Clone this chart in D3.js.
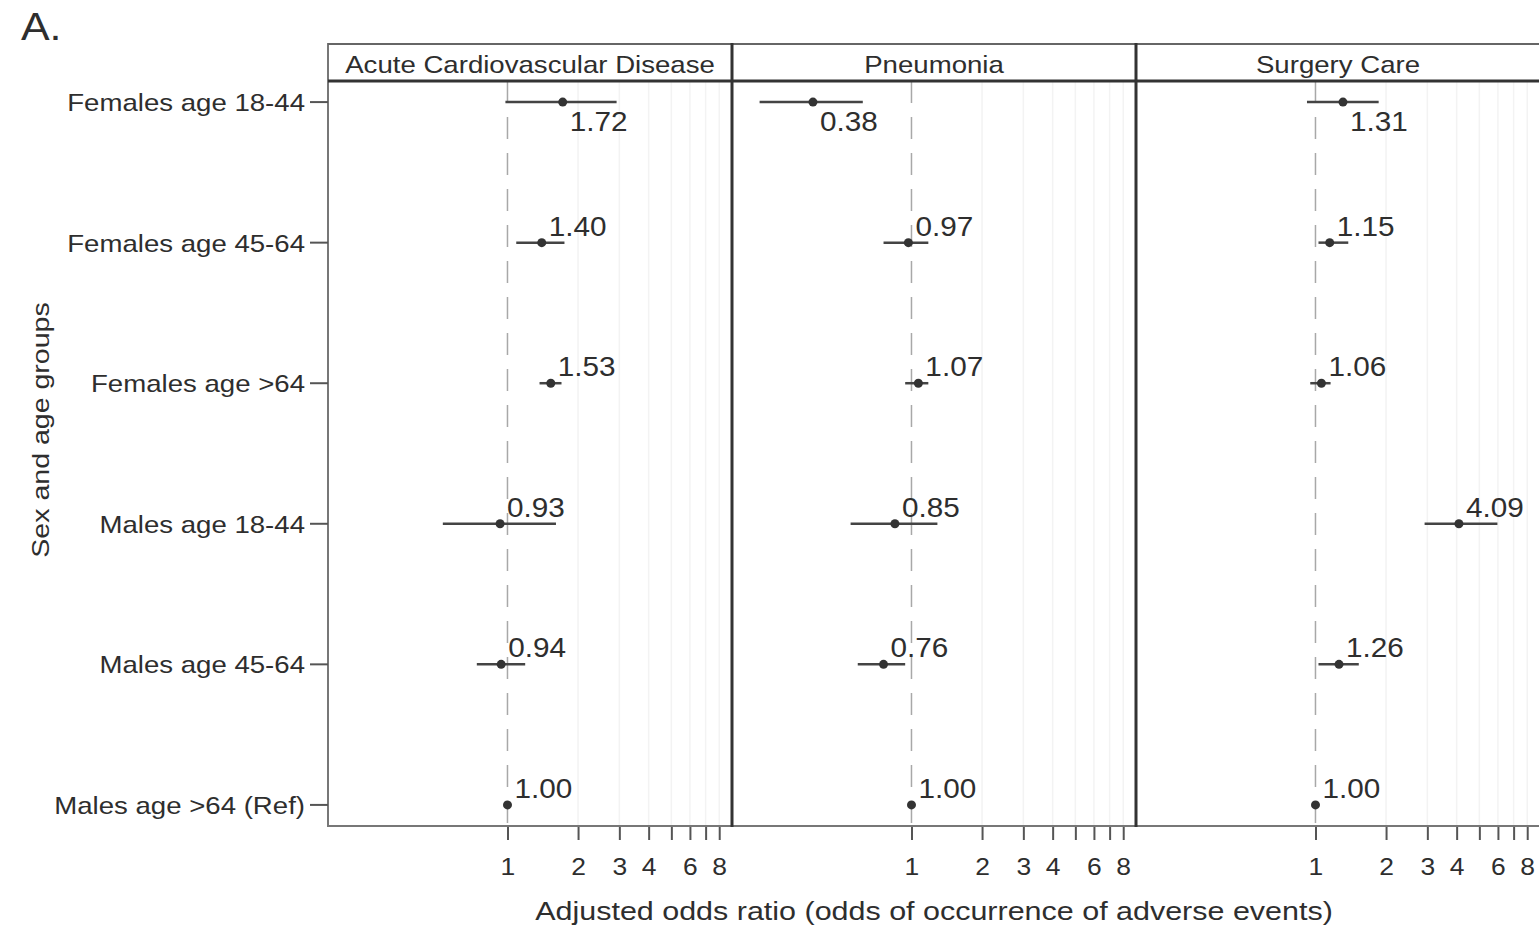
<!DOCTYPE html>
<html>
<head>
<meta charset="utf-8">
<script src="https://cdn.jsdelivr.net/npm/d3@7"></script>
<style>
  body { margin: 0; background: #fff; }
  svg { display: block; }
  text { font-family: "Liberation Sans", Arial, sans-serif; fill: #2e2e2e; }
</style>
</head>
<body>
<svg id="chart"></svg>
<script>
// rows, top to bottom
const groups = ["Females age 18-44", "Females age 45-64", "Females age >64",
                "Males age 18-44", "Males age 45-64", "Males age >64 (Ref)"];
const panels = ["Acute Cardiovascular Disease", "Pneumonia", "Surgery Care"];

// adjusted odds ratios and 95% CI, same order as groups
const cardioOR = [1.72, 1.40, 1.53, 0.93, 0.94, 1.00];
const cardioLo = [0.98, 1.09, 1.37, 0.53, 0.74, 1.00];
const cardioHi = [2.92, 1.75, 1.70, 1.61, 1.19, 1.00];

const pneuOR = [0.38, 0.97, 1.07, 0.85, 0.76, 1.00];
const pneuLo = [0.225, 0.76, 0.94, 0.55, 0.59, 1.00];
const pneuHi = [0.62, 1.18, 1.18, 1.29, 0.94, 1.00];

const surgOR = [1.31, 1.15, 1.06, 4.09, 1.26, 1.00];
const surgLo = [0.92, 1.03, 0.95, 2.92, 1.03, 1.00];
const surgHi = [1.86, 1.38, 1.16, 5.97, 1.53, 1.00];

const xTicks = [1, 2, 3, 4, 5, 6, 7, 8];
const xTickLabels = [1, 2, 3, 4, 6, 8];

const width = 1539, height = 930;
const left = 328, panelW = 404;
const stripTop = 44, plotTop = 81, plotBottom = 826;
const SX = 1.15; // the original font is a bit wider than Arial

const series = [
  {name: panels[0], or: cardioOR, lo: cardioLo, hi: cardioHi},
  {name: panels[1], or: pneuOR, lo: pneuLo, hi: pneuHi},
  {name: panels[2], or: surgOR, lo: surgLo, hi: surgHi}
];

const svg = d3.select("#chart")
    .attr("width", width)
    .attr("height", height);

const x = d3.scaleLog().domain([0.1716, 9.07]).range([0, panelW]);
const y = d3.scalePoint().domain(groups).range([plotTop, plotBottom]).padding(0.15);

// text helper, stretched horizontally
function txt(g, s, tx, ty, size, anchor, sx) {
  return g.append("text")
      .attr("transform", `translate(${tx},${ty}) scale(${sx || SX},1)`)
      .attr("text-anchor", anchor || "start")
      .style("font-size", size + "px")
      .text(s);
}

// panel label
txt(svg, "A.", 21, 40, 39, "start", 1.1);

series.forEach((p, pi) => {
  const g = svg.append("g").attr("transform", `translate(${left + pi * panelW},0)`);

  // faint grid
  g.append("g")
    .selectAll("line")
    .data(xTicks.slice(1))
    .join("line")
      .attr("x1", d => x(d)).attr("x2", d => x(d))
      .attr("y1", plotTop).attr("y2", plotBottom)
      .attr("stroke", "#f3f3f3")
      .attr("stroke-width", 1.5);

  // reference line at OR = 1
  g.append("line")
      .attr("x1", x(1)).attr("x2", x(1))
      .attr("y1", plotTop).attr("y2", plotBottom)
      .attr("stroke", "#a8a8a8")
      .attr("stroke-width", 1.5)
      .attr("stroke-dasharray", "22,14");

  const rows = groups.map((grp, i) => ({grp, i, or: p.or[i], lo: p.lo[i], hi: p.hi[i]}));

  // CI lines
  g.append("g")
    .selectAll("line")
    .data(rows.filter(d => d.lo !== d.hi))
    .join("line")
      .attr("x1", d => x(d.lo)).attr("x2", d => x(d.hi))
      .attr("y1", d => y(d.grp)).attr("y2", d => y(d.grp))
      .attr("stroke", "#444")
      .attr("stroke-width", 2.5);

  // points
  g.append("g")
    .selectAll("circle")
    .data(rows)
    .join("circle")
      .attr("cx", d => x(d.or))
      .attr("cy", d => y(d.grp))
      .attr("r", 4.5)
      .attr("fill", "#333");

  // value labels (first row sits below the line)
  rows.forEach(d => {
    const ly = d.i === 0 ? y(d.grp) + 29 : y(d.grp) - 7;
    txt(g, d.or.toFixed(2), x(d.or) + 7, ly, 27, "start", 1.1);
  });

  // x axis
  const ax = g.append("g")
      .attr("transform", `translate(0,${plotBottom})`)
      .call(d3.axisBottom(x)
        .tickValues(xTicks)
        .tickFormat(d => xTickLabels.includes(d) ? d : "")
        .tickSize(14)
        .tickPadding(19));
  ax.select(".domain").remove();
  ax.selectAll(".tick line").attr("stroke", "#555").attr("stroke-width", 2);
  ax.selectAll(".tick text")
      .attr("fill", "#2e2e2e")
      .attr("transform", `scale(${SX},1)`)
      .style("font-size", "23px")
      .style("font-family", "'Liberation Sans', Arial, sans-serif");

  // strip header
  g.append("rect")
      .attr("x", 0).attr("y", stripTop)
      .attr("width", panelW).attr("height", plotTop - stripTop)
      .attr("fill", "#fff");
  txt(g, p.name, panelW / 2, 73, 24, "middle");
});

// frame lines
const frame = svg.append("g").attr("fill", "none");
frame.append("line")
    .attr("x1", left).attr("x2", left).attr("y1", stripTop - 1).attr("y2", plotBottom + 1)
    .attr("stroke", "#777").attr("stroke-width", 2);
frame.append("line")
    .attr("x1", left).attr("x2", width).attr("y1", stripTop).attr("y2", stripTop)
    .attr("stroke", "#666").attr("stroke-width", 2);
frame.append("line")
    .attr("x1", left).attr("x2", width).attr("y1", plotBottom).attr("y2", plotBottom)
    .attr("stroke", "#777").attr("stroke-width", 2);
frame.append("line")
    .attr("x1", left).attr("x2", width).attr("y1", plotTop).attr("y2", plotTop)
    .attr("stroke", "#333").attr("stroke-width", 3);
frame.selectAll(".sep")
  .data([1, 2])
  .join("line")
    .attr("x1", d => left + d * panelW).attr("x2", d => left + d * panelW)
    .attr("y1", stripTop - 1).attr("y2", plotBottom + 1)
    .attr("stroke", "#333").attr("stroke-width", 3);

// y axis ticks and row labels
svg.append("g")
  .selectAll("line")
  .data(groups)
  .join("line")
    .attr("x1", left - 18).attr("x2", left)
    .attr("y1", d => y(d)).attr("y2", d => y(d))
    .attr("stroke", "#555").attr("stroke-width", 2);
groups.forEach(grp => txt(svg, grp, 305, y(grp) + 9, 24, "end"));

// axis titles
txt(svg, "Adjusted odds ratio (odds of occurrence of adverse events)",
    left + panelW * 1.5, 920, 26.5, "middle");
svg.append("text")
    .attr("transform", "translate(49,430) rotate(-90) scale(1.19,1)")
    .attr("text-anchor", "middle")
    .style("font-size", "24px")
    .text("Sex and age groups");
</script>
</body>
</html>
